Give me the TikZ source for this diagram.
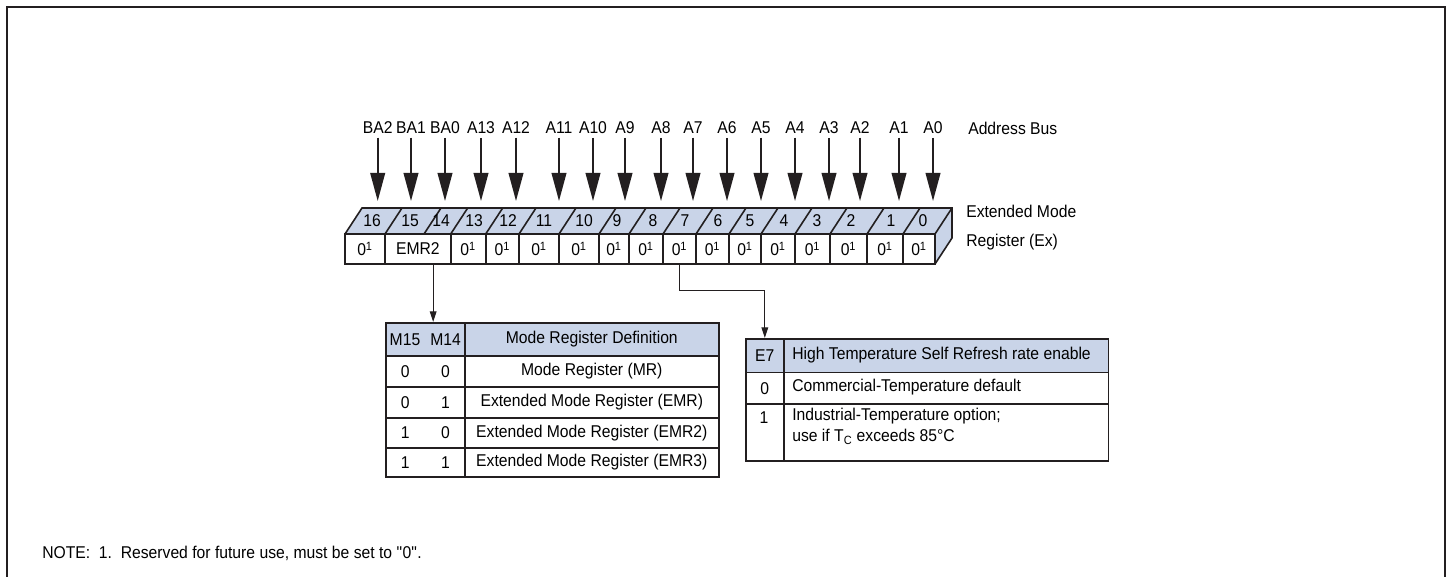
\documentclass[tikz,border=0pt]{standalone}
\usepackage{fontspec}
\setmainfont{Liberation Sans}[FakeStretch=0.92]
\usetikzlibrary{arrows.meta}
\definecolor{regblue}{RGB}{201,212,232}
\definecolor{inkc}{RGB}{35,31,32}
\def\rsv{0\textsuperscript{1}}
\tikzset{
  frameline/.style={draw=inkc, line width=1.5pt},
  outline/.style={draw=inkc, line width=1.2pt},
  cell/.style={draw=inkc, line width=1.2pt, minimum height=22.5pt},
  buslbl/.style={inner xsep=0pt, inner ysep=2.6pt},
  busarrow/.style={draw=inkc, line width=1.3pt, -{Triangle[length=21pt,width=11pt]}},
  selarrow/.style={draw=inkc, line width=0.9pt, -{Triangle[length=8pt,width=5pt]}},
  tcell/.style={draw=inkc, line width=1.2pt, anchor=north west},
}

\begin{document}
\begin{tikzpicture}[x=0.75pt, y=-0.75pt, font=\fontsize{12.8}{15}\selectfont,
  every node/.append style={inner sep=0pt}]
\useasboundingbox (0,0) rectangle (1448,577);
\draw[frameline] (7,577) -- (7,7) -- (1445,7) -- (1445,577);

% address bus
\foreach \x/\t in {377.7/BA2, 411/BA1, 445/BA0, 481/A13, 516/A12, 559/A11, 593/A10, 625/A9, 661/A8,
                   693/A7, 727/A6, 761/A5, 795/A4, 829/A3, 860/A2, 899/A1, 933/A0} {
  \node[buslbl] (bus\t) at (\x,128) {\t};
  \coordinate (in\t) at (\x,201);
  \draw[busarrow] (bus\t) -- (in\t);
}
\node[anchor=west] (busname) at (968,128) {Address Bus};

% register body
\fill[regblue] (345,234) -- (362,208) -- (952,208) -- (952,238) -- (935,264) -- (935,234) -- cycle;
\foreach \xa/\xb/\nm/\tx in {345/385/b16/\rsv, 385/450.7/b15/EMR2, 450.7/485.7/b13/\rsv, 485.7/519/b12/\rsv,
    519/559/b11/\rsv, 559/599/b10/\rsv, 599/629/b9/\rsv, 629/663/b8/\rsv, 663/696/b7/\rsv,
    696/729/b6/\rsv, 729/761/b5/\rsv, 761/795/b4/\rsv, 795/830/b3/\rsv, 830/867/b2/\rsv,
    867/903/b1/\rsv, 903/935/b0/\rsv}
  \node[cell, fill=white, minimum width={(\xb-\xa)*0.75pt}] (\nm) at ({(\xa+\xb)/2},249) {\tx};
\draw[outline] (345,234) -- (362,208) -- (952,208) -- (952,238) -- (935,264);
\draw[outline] (935,234) -- (952,208);
\foreach \x in {385,424,450.7,485.7,519,559,599,629,663,696,729,761,795,830,867,903}
  \draw[outline] (\x,234) -- ++(17,-26);
\foreach \x/\n in {372/16, 410/15, 441/14, 474/13, 508/12, 544/11, 584/10, 617/9, 653/8,
                   685/7, 718/6, 750/5, 784/4, 817/3, 851/2, 891/1, 923/0}
  \node (top\n) at (\x,221) {\n};
\node[anchor=west] (regA) at (966,211) {Extended Mode};
\node[anchor=west] (regB) at (966,242) {Register (Ex)};

% mode register table
\node[tcell, fill=regblue, minimum width=59.25pt, minimum height=24.75pt] (mA0) at (385,322) {M15\hspace{7.6pt}M14};
\node[tcell, fill=regblue, minimum width=190.5pt, minimum height=24.75pt] (mB0) at (464,322) {Mode Register Definition};
\foreach \y/\h/\a/\b [count=\r] in {355/31/{0\hspace{23.6pt}0}/Mode Register (MR),
    386/31/{0\hspace{23.6pt}1}/Extended Mode Register (EMR),
    417/30/{1\hspace{23.6pt}0}/Extended Mode Register (EMR2),
    447/29/{1\hspace{23.6pt}1}/Extended Mode Register (EMR3)} {
  \node[tcell, minimum width=59.25pt, minimum height={\h*0.75pt}] (mA\r) at (385,\y) {\a};
  \node[tcell, minimum width=190.5pt, minimum height={\h*0.75pt}] (mB\r) at (464,\y) {\b};
}

% E7 table
\node[tcell, fill=regblue, minimum width=28.5pt, minimum height=25.25pt] (eA0) at (745,338) {E7};
\node[tcell, fill=regblue, minimum width=243.5pt, minimum height=25.25pt] (eB0) at (783,338) {};
\node[tcell, minimum width=28.5pt, minimum height=23.5pt] (eA1) at (745,371.7) {0};
\node[tcell, minimum width=243.5pt, minimum height=23.5pt] (eB1) at (783,371.7) {};
\node[tcell, minimum width=28.5pt, minimum height=42.75pt] (eA2) at (745,403) {};
\node[tcell, minimum width=243.5pt, minimum height=42.75pt] (eB2) at (783,403) {};
\node[anchor=west] (eT0) at (792,355) {High Temperature Self Refresh rate enable};
\node[anchor=west] (eT1) at (792,387) {Commercial-Temperature default};
\node (eV2) at (764,418) {1};
\node[anchor=north west, align=left, font=\fontsize{12.8}{15.5}\selectfont] (eT2) at (792,408)
  {Industrial-Temperature option;\\use if T\textsubscript{C} exceeds 85°C};

% select lines
\coordinate (emrtap) at ([xshift=11.5pt]b15.south);
\draw[selarrow] (emrtap) -- (emrtap |- mA0.north);
\draw[selarrow] (b7.south) -- ++(0,26) -| (eA0.north);

\node[anchor=west] (note) at (42,553) {NOTE:\ \ 1.\ \ Reserved for future use, must be set to \textquotedbl 0\textquotedbl.};
\end{tikzpicture}
\end{document}
